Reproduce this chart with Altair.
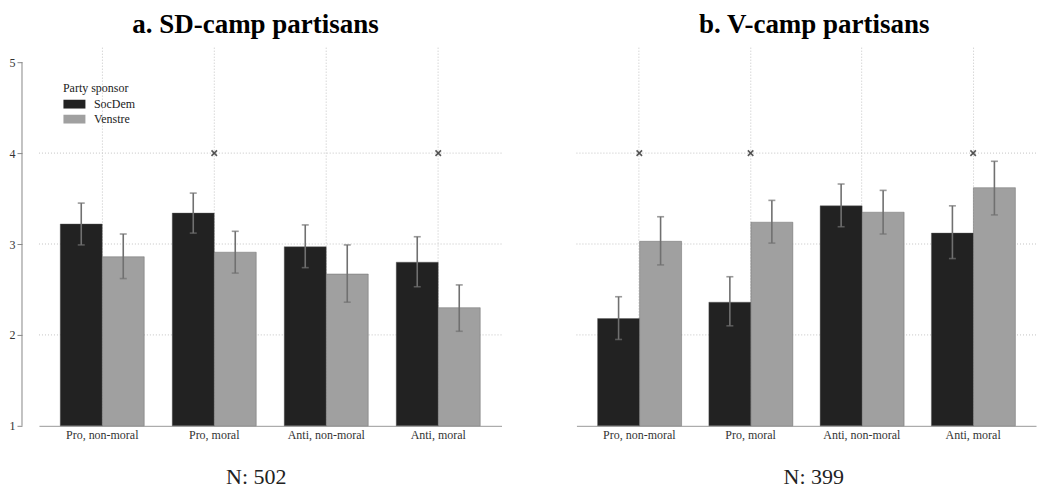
import altair as alt
import pandas as pd

categories = ["Pro, non-moral", "Pro, moral", "Anti, non-moral", "Anti, moral"]
sponsors = ["SocDem", "Venstre"]

# Panel a: SD-camp partisans
a_socdem = [3.22, 3.34, 2.97, 2.80]
a_socdem_lo = [2.99, 3.12, 2.74, 2.53]
a_socdem_hi = [3.45, 3.56, 3.21, 3.08]
a_venstre = [2.86, 2.91, 2.67, 2.30]
a_venstre_lo = [2.62, 2.68, 2.36, 2.04]
a_venstre_hi = [3.11, 3.14, 2.99, 2.55]
a_marks = [False, True, False, True]

# Panel b: V-camp partisans
b_socdem = [2.18, 2.36, 3.42, 3.12]
b_socdem_lo = [1.95, 2.10, 3.19, 2.84]
b_socdem_hi = [2.42, 2.64, 3.66, 3.42]
b_venstre = [3.03, 3.24, 3.35, 3.62]
b_venstre_lo = [2.77, 3.01, 3.11, 3.32]
b_venstre_hi = [3.30, 3.48, 3.59, 3.91]
b_marks = [True, True, False, True]

marker_level = 4
grid_levels = [2, 3, 4]
y_ticks = [1, 2, 3, 4, 5]

FONT = "Liberation Serif"
COLORS = ["#222222", "#a0a0a0"]


def build_df(s, slo, shi, v, vlo, vhi):
    rows = []
    for i, c in enumerate(categories):
        rows.append(dict(cat=c, sponsor="SocDem", val=s[i], lo=slo[i], hi=shi[i]))
        rows.append(dict(cat=c, sponsor="Venstre", val=v[i], lo=vlo[i], hi=vhi[i]))
    return pd.DataFrame(rows)


def panel(df, marks, title, n_text, width, show_y, show_legend, title_dx, title_x):
    xscale = alt.Scale(domain=categories, paddingInner=0.25, paddingOuter=0.19)
    yscale = alt.Scale(domain=[1, 5.165], nice=False, zero=False)
    xoff = alt.XOffset("sponsor:N", scale=alt.Scale(domain=sponsors, paddingInner=0, paddingOuter=0))

    if show_y:
        yaxis = alt.Axis(values=y_ticks, grid=False, domain=False, offset=17, tickSize=5,
                         tickColor="#888888", labelPadding=2, labelFontSize=12,
                         labelFont=FONT, labelColor="#333333", title=None, format="d")
    else:
        yaxis = None

    xaxis = alt.Axis(title=n_text, ticks=False, grid=True, gridDash=[1, 2], gridColor="#c4c4c4",
                     domainColor="#999999", labelAngle=0, labelFont=FONT, labelFontSize=12,
                     labelColor="#333333", labelPadding=4, titleFont=FONT, titleFontSize=22,
                     titleFontWeight="normal", titleColor="#222222", titleX=title_x, titleY=58,
                     titleBaseline="alphabetic", titleAnchor="middle", titleAlign="center")

    if show_legend:
        legend = alt.Legend(title="Party sponsor", orient="none", legendX=24, legendY=36,
                            titleFont=FONT, titleFontSize=12, titleFontWeight="normal",
                            titleColor="#222222", titlePadding=3, labelFont=FONT, labelFontSize=12,
                            labelColor="#222222", symbolType="M-1,-0.8H3V0.8H-1Z", symbolSize=121,
                            symbolStrokeWidth=0, labelOffset=19, rowPadding=3)
    else:
        legend = None

    base = alt.Chart(df)

    hgrid = alt.Chart(pd.DataFrame({"g": grid_levels})).mark_rule(
        color="#c4c4c4", strokeDash=[1, 2], strokeWidth=1
    ).encode(y=alt.Y("g:Q", scale=yscale, axis=yaxis))

    bars = base.mark_bar(stroke="#555555", strokeWidth=0.4).encode(
        x=alt.X("cat:N", scale=xscale, axis=xaxis, sort=categories),
        xOffset=xoff,
        y=alt.Y("val:Q", scale=yscale, axis=yaxis),
        y2=alt.datum(1),
        color=alt.Color("sponsor:N", scale=alt.Scale(domain=sponsors, range=COLORS), legend=legend),
    )

    err = base.mark_rule(color="#707070", strokeWidth=1.6).encode(
        x=alt.X("cat:N", scale=xscale, sort=categories, bandPosition=0.5),
        xOffset=xoff,
        y=alt.Y("lo:Q", scale=yscale),
        y2="hi:Q",
    )
    cap_hi = base.mark_tick(color="#707070", thickness=1.6, size=7, orient="horizontal").encode(
        x=alt.X("cat:N", scale=xscale, sort=categories),
        xOffset=xoff,
        y=alt.Y("hi:Q", scale=yscale),
    )
    cap_lo = base.mark_tick(color="#707070", thickness=1.6, size=7, orient="horizontal").encode(
        x=alt.X("cat:N", scale=xscale, sort=categories),
        xOffset=xoff,
        y=alt.Y("lo:Q", scale=yscale),
    )

    mdf = pd.DataFrame({"cat": [c for c, m in zip(categories, marks) if m],
                        "lvl": [marker_level for m in marks if m]})
    xmarks = alt.Chart(mdf).mark_point(
        shape="M-1,-1L1,1M-1,1L1,-1", size=30, stroke="#111111", strokeWidth=1.6, filled=False
    ).encode(
        x=alt.X("cat:N", scale=xscale, sort=categories),
        y=alt.Y("lvl:Q", scale=yscale),
    )

    layers = [hgrid, bars, err, cap_hi, cap_lo, xmarks]
    if show_y:
        yline = alt.Chart(pd.DataFrame({"a": [1], "b": [5]})).mark_rule(
            color="#888888", strokeWidth=1
        ).encode(x=alt.value(-17), y=alt.Y("a:Q", scale=yscale), y2="b:Q")
        layers.append(yline)

    return alt.layer(*layers).properties(
        width=width, height=379,
        title=alt.TitleParams(title, font=FONT, fontSize=27, fontWeight="bold", color="#000000",
                              anchor="middle", frame="bounds", dx=title_dx, offset=8),
    )


df_a = build_df(a_socdem, a_socdem_lo, a_socdem_hi, a_venstre, a_venstre_lo, a_venstre_hi)
df_b = build_df(b_socdem, b_socdem_lo, b_socdem_hi, b_venstre, b_venstre_lo, b_venstre_hi)

left = panel(df_a, a_marks, "a. SD-camp partisans", "N: 502", 463, True, True, 0, 217)
right = panel(df_b, b_marks, "b. V-camp partisans", "N: 399", 460, False, False, 8, 237)

chart = alt.hconcat(left, right, spacing=73).resolve_scale(color="independent").properties(
    padding={"left": 1, "top": 3, "right": 0, "bottom": 0},
    background="white",
).configure_view(stroke="transparent", strokeWidth=0)

chart.save("out.html", embed_options={"renderer": "svg", "actions": False})
